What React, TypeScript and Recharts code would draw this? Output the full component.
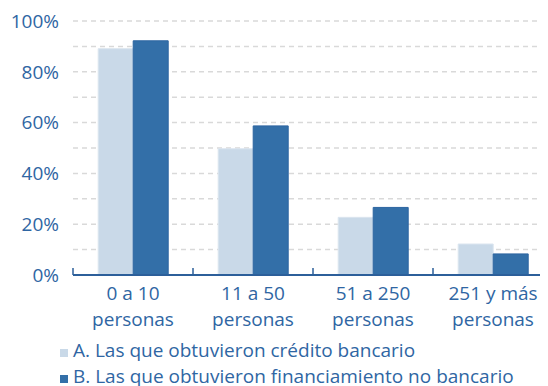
import React from 'react';
import { BarChart, Bar, XAxis, YAxis, CartesianGrid } from 'recharts';

const categories = ['0 a 10|personas', '11 a 50|personas', '51 a 250|personas', '251 y más|personas'];
const creditoBancario = [89.1, 49.7, 22.7, 12.2];
const financiamientoNoBancario = [92.2, 58.7, 26.6, 8.3];
const yTicks = [0, 20, 40, 60, 80, 100];
const gridValues = [10, 20, 30, 40, 50, 60, 70, 80, 90, 100];
const seriesNames = ['A. Las que obtuvieron crédito bancario', 'B. Las que obtuvieron financiamiento no bancario'];

const data = categories.map((c, i) => ({
  cat: c,
  a: creditoBancario[i],
  b: financiamientoNoBancario[i],
}));

const TEXT = '#2f66a3';
const AXIS = '#2c5f9a';
const LIGHT = '#c9d9e8';
const DARK = '#336fa8';
const FONT = '"Open Sans", sans-serif';

const CHART_W = 545;
const CHART_H = 378;
const Y_W = 65;
const BAND = (CHART_W - Y_W) / categories.length;

const XTick = (props: any) => {
  const { x, y, payload } = props;
  const lines = String(payload.value).split('|');
  return (
    <g>
      <line x1={x - BAND / 2} x2={x - BAND / 2} y1={y} y2={y - 7} stroke={AXIS} strokeWidth={1.5} />
      {lines.map((l, i) => (
        <text key={i} x={x} y={y + 25 + i * 26} textAnchor="middle" fill={TEXT} fontSize={19} fontFamily={FONT}>
          {l}
        </text>
      ))}
    </g>
  );
};

const LegendBlock = () => (
  <div
    style={{
      position: 'absolute',
      left: 52,
      top: 329,
      fontFamily: FONT,
      fontSize: 19,
      color: TEXT,
      lineHeight: '26px',
    }}
  >
    {seriesNames.map((n, i) => (
      <div key={i} style={{ display: 'flex', alignItems: 'baseline', whiteSpace: 'nowrap' }}>
        <span style={{ display: 'inline-block', width: 8, height: 8, background: i === 0 ? LIGHT : DARK, marginRight: 5 }} />
        <span>{n}</span>
      </div>
    ))}
  </div>
);

export default function App() {
  return (
    <div style={{ position: 'relative', width: 540, height: CHART_H, overflow: 'hidden' }}>
      <BarChart
        width={CHART_W}
        height={CHART_H}
        data={data}
        margin={{ top: 13, right: 0, bottom: 81, left: 0 }}
        barGap={0}
        barCategoryGap="21%"
      >
        <CartesianGrid
          vertical={false}
          horizontalValues={gridValues}
          stroke="#d9d9d9"
          strokeDasharray="5 4"
          strokeWidth={1.5}
        />
        <XAxis
          dataKey="cat"
          height={30}
          tick={<XTick />}
          tickLine={false}
          tickSize={0}
          tickMargin={0}
          axisLine={{ stroke: AXIS, strokeWidth: 2 }}
          interval={0}
        />
        <YAxis
          domain={[0, 100]}
          ticks={yTicks}
          width={Y_W}
          axisLine={false}
          tickLine={false}
          tickSize={0}
          tickMargin={14}
          tickFormatter={(v: number) => `${v}%`}
          tick={{ fill: TEXT, fontSize: 19, fontFamily: FONT }}
        />
        <Bar dataKey="a" name={seriesNames[0]} fill={LIGHT} stroke="#dbe5ef" strokeWidth={1} isAnimationActive={false} />
        <Bar dataKey="b" name={seriesNames[1]} fill={DARK} stroke="#2c64a0" strokeWidth={1} isAnimationActive={false} />
      </BarChart>
      <LegendBlock />
    </div>
  );
}
